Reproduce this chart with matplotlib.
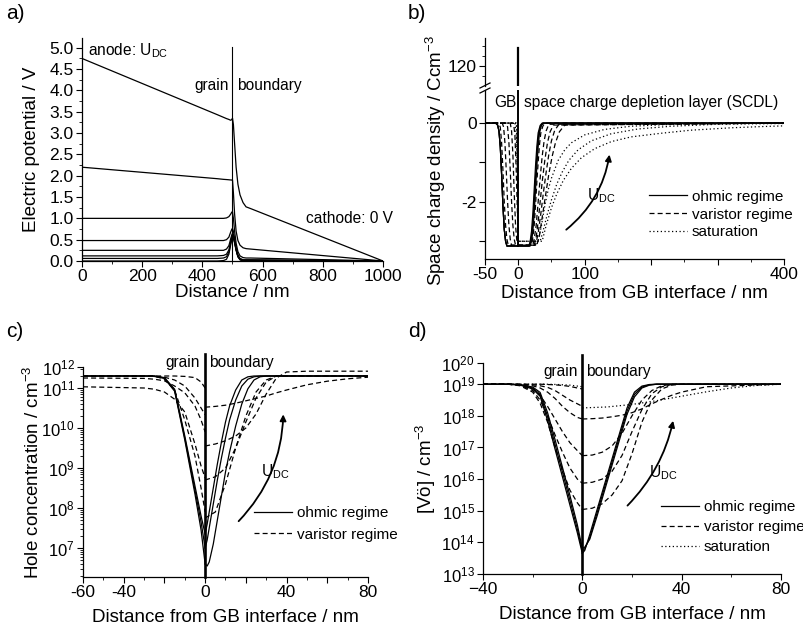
import numpy as np
import matplotlib
matplotlib.use("Agg")
import matplotlib.pyplot as plt
from matplotlib.patches import FancyArrowPatch
from matplotlib.lines import Line2D
from matplotlib.ticker import MultipleLocator, FixedLocator, FixedFormatter, LogLocator, NullFormatter, FormatStrFormatter

plt.rcParams['font.family'] = ['Liberation Sans', 'DejaVu Sans']
plt.rcParams['mathtext.fontset'] = 'custom'
plt.rcParams['mathtext.rm'] = 'Liberation Sans'
plt.rcParams['mathtext.it'] = 'Liberation Sans:italic'
plt.rcParams['mathtext.bf'] = 'Liberation Sans:bold'

# ---------------- a) electric potential ----------------
a_x = [0, 450, 470, 480, 488, 494, 498, 500, 503, 507, 512, 518, 525, 535, 545, 560, 1000]
a_u1 = [4.75, 3.43, 3.37, 3.34, 3.32, 3.30, 3.32, 3.35, 3.20, 2.75, 2.20, 1.80, 1.55, 1.37, 1.27, 1.23, 0.0]
a_u2 = [2.20, 1.93, 1.915, 1.91, 1.905, 1.90, 1.90, 1.90, 1.60, 1.10, 0.70, 0.48, 0.37, 0.31, 0.29, 0.28, 0.0]
a_u3 = [1.00, 1.00, 1.00, 1.01, 1.04, 1.10, 1.15, 1.15, 1.00, 0.70, 0.42, 0.22, 0.12, 0.08, 0.07, 0.07, 0.0]
a_u4 = [0.48, 0.48, 0.48, 0.50, 0.56, 0.68, 0.75, 0.76, 0.70, 0.52, 0.30, 0.14, 0.06, 0.03, 0.03, 0.03, 0.0]
a_u5 = [0.25, 0.25, 0.25, 0.28, 0.36, 0.52, 0.62, 0.65, 0.62, 0.48, 0.28, 0.12, 0.05, 0.02, 0.02, 0.02, 0.0]
a_u6 = [0.12, 0.12, 0.13, 0.16, 0.26, 0.45, 0.57, 0.60, 0.58, 0.45, 0.27, 0.11, 0.04, 0.01, 0.01, 0.01, 0.0]
a_u7 = [0.06, 0.06, 0.07, 0.10, 0.21, 0.42, 0.55, 0.58, 0.56, 0.44, 0.26, 0.10, 0.03, 0.01, 0.0, 0.0, 0.0]
a_u8 = [0.00, 0.00, 0.01, 0.04, 0.16, 0.38, 0.52, 0.55, 0.53, 0.42, 0.25, 0.10, 0.03, 0.0, 0.0, 0.0, 0.0]
a_gb = 500

# ---------------- b) space charge density ----------------
b_ohm_v = [0, 0, -0.05, -0.2, -0.6, -1.3, -2.1, -2.7, -3.0, -3.12, -3.12, -3.0, -2.75, -2.3, -1.7, -1.1, -0.6, -0.25, -0.06, 0, 0]
b_ohm_x1 = [-50, -34, -31, -29, -27, -25, -23, -21, -19, -17, 16, 18, 20, 22, 24, 26, 28, 30, 33, 36, 400]
b_ohm_x2 = [-50, -34, -31, -29, -27, -25, -23, -21, -19, -17, 17, 19, 21, 23, 25, 27, 29, 31, 34, 37, 400]
b_ohm_x3 = [-50, -34, -31, -29, -27, -25, -23, -21, -19, -17, 18, 20, 22, 24, 26, 28, 30, 32, 35, 38, 400]

b_var_x1 = [-50, -30, -27, -25, -23, -21, -19, -17, -15, 20, 22, 24, 26, 28, 30, 32, 34, 37, 40, 400]
b_var_v1 = [0, 0, -0.1, -0.5, -1.2, -2.0, -2.6, -2.95, -3.1, -3.1, -2.9, -2.6, -2.1, -1.5, -1.0, -0.55, -0.25, -0.08, 0, 0]
b_var_x2 = [-50, -24, -22, -20, -18, -16, -14, -12, -10, 22, 24, 27, 30, 33, 36, 39, 42, 46, 400]
b_var_v2 = [0, 0, -0.1, -0.5, -1.2, -2.0, -2.6, -2.95, -3.1, -3.1, -2.95, -2.6, -2.0, -1.4, -0.85, -0.45, -0.2, -0.03, 0]
b_var_x3 = [-50, -18, -16, -14, -12, -10, -8, -6, -4, 24, 27, 30, 33, 36, 40, 44, 48, 53, 400]
b_var_v3 = [0, 0, -0.1, -0.5, -1.2, -2.0, -2.6, -2.95, -3.1, -3.1, -2.9, -2.5, -2.0, -1.5, -0.95, -0.5, -0.22, -0.05, 0]
b_var_x4 = [-50, -12, -10, -8, -6, -4, -2, 0, 26, 30, 34, 38, 42, 46, 50, 55, 61, 400]
b_var_v4 = [0, 0, -0.2, -0.8, -1.8, -2.6, -3.0, -3.1, -3.1, -2.8, -2.3, -1.75, -1.25, -0.8, -0.45, -0.18, -0.04, 0]
b_var_x5 = [-50, -7, -5, -3, -1, 0, 28, 32, 36, 41, 46, 51, 56, 62, 70, 400]
b_var_v5 = [0, 0, -0.3, -1.2, -2.4, -3.1, -3.1, -2.85, -2.4, -1.85, -1.3, -0.85, -0.5, -0.22, -0.05, 0]

b_sat_x1 = [-50, -5, -3, -1, 0, 30, 35, 40, 45, 50, 60, 70, 80, 100, 130, 170, 220, 300, 400]
b_sat_v1 = [0, 0, -0.3, -1.5, -3.0, -3.0, -2.6, -2.1, -1.7, -1.4, -0.95, -0.68, -0.5, -0.3, -0.16, -0.08, -0.04, -0.01, 0]
b_sat_x2 = [-50, -3, -1, 0, 33, 38, 44, 50, 58, 66, 76, 90, 110, 140, 180, 230, 300, 400]
b_sat_v2 = [0, 0, -1.0, -3.0, -3.0, -2.7, -2.3, -1.95, -1.55, -1.25, -0.95, -0.68, -0.45, -0.27, -0.15, -0.08, -0.03, -0.01]
b_sat_x3 = [-50, -2, 0, 36, 42, 50, 58, 68, 80, 95, 115, 140, 170, 214, 260, 320, 364, 400]
b_sat_v3 = [0, 0, -3.0, -3.0, -2.6, -2.15, -1.8, -1.45, -1.15, -0.88, -0.65, -0.47, -0.35, -0.26, -0.18, -0.12, -0.09, -0.07]

b_gb_x = [0, 0]
b_gb_v = [-3.12, 129]

# ---------------- c) hole concentration (log10 cm^-3) ----------------
c_xl = [-60, -30, -25, -20, -15, -10, -5, -2, 0]
c_ohm_l1 = [11.3, 11.3, 11.3, 11.26, 10.97, 9.8, 8.55, 7.8, 7.35]
c_ohm_l2 = [11.3, 11.3, 11.3, 11.25, 10.95, 9.75, 8.45, 7.65, 7.0]
c_ohm_l3 = [11.3, 11.3, 11.29, 11.24, 10.92, 9.7, 8.35, 7.45, 6.6]
c_xr = [0, 1, 2, 4, 6, 8, 10, 12, 15, 18, 21, 24, 27, 30, 80]
c_ohm_r1 = [7.35, 7.6, 7.9, 8.5, 9.1, 9.65, 10.15, 10.55, 10.95, 11.2, 11.28, 11.3, 11.3, 11.3, 11.3]
c_ohm_r2 = [7.0, 7.2, 7.5, 8.1, 8.7, 9.25, 9.75, 10.2, 10.7, 11.05, 11.22, 11.28, 11.3, 11.3, 11.3]
c_ohm_r3 = [6.6, 6.55, 6.65, 7.1, 7.7, 8.3, 8.9, 9.4, 10.05, 10.6, 10.98, 11.2, 11.28, 11.3, 11.3]

c_var_l1 = [11.3, 11.3, 11.3, 11.3, 11.3, 11.29, 11.26, 11.15, 11.0]
c_var_l2 = [11.3, 11.3, 11.29, 11.27, 11.2, 11.05, 10.75, 10.5, 10.33]
c_var_l3 = [11.25, 11.24, 11.22, 11.18, 11.05, 10.88, 10.55, 10.2, 9.9]
c_var_l4 = [11.03, 11.0, 10.97, 10.9, 10.72, 10.4, 9.6, 9.05, 8.75]
c_var_l5 = [11.3, 11.3, 11.3, 11.22, 10.95, 10.2, 9.3, 8.5, 7.9]
c_xr2 = [0, 5, 10, 15, 20, 25, 30, 35, 40, 50, 60, 70, 80]
c_var_r1 = [7.75, 7.9, 8.6, 9.5, 10.3, 10.9, 11.2, 11.3, 11.3, 11.3, 11.3, 11.3, 11.3]
c_var_r2 = [8.7, 8.78, 9.0, 9.5, 10.15, 10.75, 11.15, 11.3, 11.3, 11.3, 11.3, 11.3, 11.3]
c_var_r3 = [9.55, 9.6, 9.68, 9.8, 10.0, 10.35, 10.85, 11.25, 11.4, 11.42, 11.42, 11.42, 11.42]
c_var_r4 = [10.52, 10.54, 10.57, 10.62, 10.68, 10.74, 10.8, 10.88, 10.95, 11.08, 11.17, 11.23, 11.27]

c_ticks_exp = [7, 8, 9, 10, 11, 12]

# ---------------- d) oxygen vacancy concentration (log10 cm^-3) ----------------
d_xl = [-40, -30, -25, -20, -17, -14, -11, -8, -5, -2, 0]
d_ohm_l1 = [19.0, 19.0, 18.97, 18.85, 18.62, 17.85, 16.95, 16.07, 15.18, 14.3, 13.65]
d_ohm_l2 = [19.0, 19.0, 18.98, 18.88, 18.68, 17.98, 17.1, 16.22, 15.33, 14.42, 13.72]
d_ohm_l3 = [19.0, 19.0, 18.99, 18.91, 18.74, 18.1, 17.25, 16.37, 15.48, 14.55, 13.8]
d_xr = [0, 1, 3, 6, 9, 12, 15, 18, 21, 24, 27, 30, 40, 80]
d_ohm_r1 = [13.65, 13.75, 14.25, 15.05, 15.85, 16.65, 17.45, 18.25, 18.75, 18.94, 18.99, 19.0, 19.0, 19.0]
d_ohm_r2 = [13.72, 13.8, 14.15, 14.95, 15.75, 16.55, 17.35, 18.15, 18.68, 18.91, 18.98, 19.0, 19.0, 19.0]
d_ohm_r3 = [13.8, 13.85, 14.1, 14.85, 15.65, 16.45, 17.25, 18.05, 18.6, 18.88, 18.97, 19.0, 19.0, 19.0]

d_var_l1 = [19, 19, 19, 19, 19, 18.99, 18.98, 18.96, 18.93, 18.88, 18.85]
d_var_l2 = [19, 19, 19, 18.98, 18.95, 18.9, 18.8, 18.65, 18.5, 18.38, 18.3]
d_var_l3 = [19, 19, 18.99, 18.95, 18.88, 18.75, 18.55, 18.3, 18.1, 17.95, 17.9]
d_var_l4 = [19, 19, 18.97, 18.85, 18.65, 18.3, 17.9, 17.5, 17.15, 16.9, 16.74]
d_var_l5 = [19, 19, 18.96, 18.8, 18.5, 18.0, 17.4, 16.85, 16.35, 16.0, 15.87]
d_var_l6 = [19, 19, 18.95, 18.75, 18.4, 17.8, 17.0, 16.3, 15.65, 15.25, 15.04]
d_xr2 = [0, 4, 8, 12, 16, 20, 24, 28, 32, 36, 40, 50, 80]
d_var_r1 = [15.04, 15.08, 15.22, 15.5, 15.95, 16.8, 17.8, 18.5, 18.85, 18.97, 19.0, 19.0, 19.0]
d_var_r2 = [15.87, 15.9, 16.0, 16.25, 16.75, 17.5, 18.2, 18.7, 18.92, 18.99, 19.0, 19.0, 19.0]
d_var_r3 = [16.74, 16.76, 16.85, 17.05, 17.45, 18.0, 18.5, 18.8, 18.95, 19.0, 19.0, 19.0, 19.0]
d_var_r4 = [17.9, 17.91, 17.93, 17.97, 18.02, 18.1, 18.22, 18.38, 18.52, 18.65, 18.75, 18.92, 19.0]
d_sat_xl = [-40, -15, -10, -5, -2, 0]
d_sat_l = [19.0, 19.0, 18.99, 18.97, 18.94, 18.92]
d_sat_xr = [0, 10, 20, 30, 40, 50, 60, 70, 80]
d_sat_r = [18.25, 18.28, 18.36, 18.48, 18.62, 18.76, 18.88, 18.96, 19.0]

d_ticks_exp = [13, 14, 15, 16, 17, 18, 19, 20]

# ---------------- figure ----------------
W, H = 804, 631
fig = plt.figure(figsize=(W / 100, H / 100), dpi=100)


def px_axes(l, t, r, b):
    return fig.add_axes([l / W, 1 - b / H, (r - l) / W, (b - t) / H])


def style(ax, tsize=12.5):
    ax.spines['top'].set_visible(False)
    ax.spines['right'].set_visible(False)
    for s in ['left', 'bottom']:
        ax.spines[s].set_linewidth(0.9)
    ax.tick_params(which='major', direction='out', length=4, width=0.8, labelsize=tsize, pad=2)
    ax.tick_params(which='minor', direction='out', length=2, width=0.6)


def lg(v):
    return 10 ** np.asarray(v)


solid = dict(color='k', lw=0.9, ls='-')
dash = dict(color='k', lw=0.9, ls=(0, (4, 2.5)))
dot = dict(color='k', lw=0.9, ls=(0, (1, 2)))
ann = 11.2
lab = 13.5
leg = dict(loc='upper left', frameon=False, fontsize=11, handlelength=2.5, handletextpad=0.3,
           borderpad=0, borderaxespad=0)


def udc(ax, p0, p1, rad, tx, ty):
    ax.add_patch(FancyArrowPatch(p0, p1, connectionstyle='arc3,rad=%g' % rad,
                                 arrowstyle='-|>', mutation_scale=9, lw=1.3, color='k'))
    ax.text(tx, ty, r'U$_{\rm DC}$', fontsize=ann, va='center', ha='left')


# ---- a ----
ax_a = px_axes(82, 38, 383, 261)
style(ax_a)
for u in [a_u1, a_u2, a_u3, a_u4, a_u5, a_u6, a_u7, a_u8]:
    ax_a.plot(a_x, u, **solid)
ax_a.axvline(a_gb, ymin=0, ymax=5.02 / 5.23, color='k', lw=0.8)
ax_a.set_xlim(0, 1000)
ax_a.set_ylim(0, 5.23)
ax_a.xaxis.set_major_locator(MultipleLocator(200))
ax_a.xaxis.set_minor_locator(MultipleLocator(100))
ax_a.yaxis.set_major_locator(FixedLocator(np.arange(0, 5.01, 0.5)))
ax_a.yaxis.set_minor_locator(MultipleLocator(0.25))
ax_a.yaxis.set_major_formatter(FormatStrFormatter('%.1f'))
ax_a.set_xlabel('Distance / nm', fontsize=lab)
ax_a.xaxis.set_label_coords(0.5, -0.104)
ax_a.set_ylabel('Electric potential / V', fontsize=lab)
ax_a.yaxis.set_label_coords(-0.14, 0.5)
ax_a.text(20, 4.93, r'anode: U$_{\rm DC}$', fontsize=ann, va='center')
ax_a.text(488, 4.12, 'grain', fontsize=ann, va='center', ha='right')
ax_a.text(515, 4.12, 'boundary', fontsize=ann, va='center', ha='left')
ax_a.text(745, 1.0, 'cathode: 0 V', fontsize=ann, va='center', ha='left', clip_on=False)

# ---- b ----
ax_b = px_axes(485, 90, 784, 259)
ax_bt = px_axes(485, 38, 784, 86)
style(ax_b)
for xx in [b_ohm_x1, b_ohm_x2, b_ohm_x3]:
    ax_b.plot(xx, b_ohm_v, **solid)
ax_b.lines[0].set_label('ohmic regime')
first = True
for xx, vv in [(b_var_x1, b_var_v1), (b_var_x2, b_var_v2), (b_var_x3, b_var_v3),
               (b_var_x4, b_var_v4), (b_var_x5, b_var_v5)]:
    ax_b.plot(xx, vv, label='varistor regime' if first else None, **dash)
    first = False
first = True
for xx, vv in [(b_sat_x1, b_sat_v1), (b_sat_x2, b_sat_v2), (b_sat_x3, b_sat_v3)]:
    ax_b.plot(xx, vv, label='saturation' if first else None, **dot)
    first = False
ax_b.plot(b_gb_x, b_gb_v, color='k', lw=1.4)
ax_bt.plot(b_gb_x, b_gb_v, color='k', lw=1.6)
ax_b.set_xlim(-50, 400)
ax_b.set_ylim(-3.45, 0.84)
ax_b.xaxis.set_major_locator(FixedLocator([-50, 0, 100, 200, 300, 400]))
ax_b.xaxis.set_major_formatter(FixedFormatter(['-50', '0', '100', '', '', '400']))
ax_b.xaxis.set_minor_locator(MultipleLocator(50))
ax_b.yaxis.set_major_locator(FixedLocator([-3, -2, -1, 0]))
ax_b.yaxis.set_major_formatter(FixedFormatter(['', '-2', '', '0']))
ax_b.set_xlabel('Distance from GB interface / nm', fontsize=lab)
ax_b.xaxis.set_label_coords(0.5, -0.154)
ax_b.text(-3, 0.52, 'GB', fontsize=ann, va='center', ha='right')
ax_b.text(9, 0.52, 'space charge depletion layer (SCDL)', fontsize=ann, va='center', ha='left',
          clip_on=False)
udc(ax_b, (69, -2.75), (138, -0.73), 0.2, 104, -1.85)
ax_b.legend(bbox_to_anchor=(0.548, 0.41), labelspacing=0.25, **leg)

for s in ['top', 'right', 'bottom']:
    ax_bt.spines[s].set_visible(False)
ax_bt.spines['left'].set_linewidth(0.9)
ax_bt.set_xlim(-50, 400)
ax_bt.set_ylim(110, 134)
ax_bt.set_xticks([])
ax_bt.yaxis.set_major_locator(FixedLocator([120]))
ax_bt.yaxis.set_minor_locator(FixedLocator([115, 125, 130]))
ax_bt.tick_params(which='major', direction='out', length=4, width=0.8, labelsize=12.5, pad=2)
ax_bt.tick_params(which='minor', direction='out', length=2, width=0.6)
for yb in (91, 86):
    fig.add_artist(Line2D([480 / W, 490 / W], [1 - (yb + 2) / H, 1 - (yb - 3) / H],
                          color='k', lw=0.9))
fig.text(436 / W, 1 - 160 / H, 'Space charge density / Ccm$^{-3}$', rotation=90,
         fontsize=lab, ha='center', va='center')

# ---- c ----
ax_c = px_axes(83, 367, 368, 577)
style(ax_c, 12)
ax_c.set_yscale('log')
for yl in [c_ohm_l1, c_ohm_l2, c_ohm_l3]:
    ax_c.plot(c_xl, lg(yl), **solid)
for yr in [c_ohm_r1, c_ohm_r2, c_ohm_r3]:
    ax_c.plot(c_xr, lg(yr), **solid)
ax_c.lines[0].set_label('ohmic regime')
for yl in [c_var_l1, c_var_l2, c_var_l3, c_var_l4, c_var_l5]:
    ax_c.plot(c_xl, lg(yl), **dash)
for yr in [c_var_r1, c_var_r2, c_var_r3, c_var_r4]:
    ax_c.plot(c_xr2, lg(yr), **dash)
ax_c.lines[6].set_label('varistor regime')
ax_c.axvline(0, ymin=0, ymax=1.06, color='k', lw=1.9, clip_on=False)
ax_c.set_xlim(-60, 80)
c_lo, c_hi = 10 ** 6.275, 10 ** 11.525
ax_c.set_ylim(c_lo, c_hi)
ax_c.yaxis.set_major_locator(FixedLocator([10.0 ** e for e in c_ticks_exp[:-1]] + [c_hi]))
ax_c.yaxis.set_major_formatter(FixedFormatter([r'$10^{%d}$' % e for e in c_ticks_exp]))
ax_c.yaxis.set_minor_locator(LogLocator(base=10, subs=np.arange(2, 10)))
ax_c.yaxis.set_minor_formatter(NullFormatter())
ax_c.xaxis.set_major_locator(FixedLocator([-60, -40, -20, 0, 20, 40, 60, 80]))
ax_c.xaxis.set_major_formatter(FixedFormatter(['-60', '-40', '', '0', '', '40', '', '80']))
ax_c.xaxis.set_minor_locator(MultipleLocator(10))
ax_c.tick_params(axis='x', labelsize=12.5)
ax_c.set_xlabel('Distance from GB interface / nm', fontsize=lab)
ax_c.xaxis.set_label_coords(0.5, -0.15)
ax_c.set_ylabel('Hole concentration / cm$^{-3}$', fontsize=lab)
ax_c.yaxis.set_label_coords(-0.14, 0.5)
ax_c.text(-2.5, 10 ** 11.65, 'grain', fontsize=ann, va='center', ha='right')
ax_c.text(2.0, 10 ** 11.65, 'boundary', fontsize=ann, va='center', ha='left')
udc(ax_c, (15.5, 10 ** 7.62), (38.4, 10 ** 10.41), 0.2, 27.5, 10 ** 8.9)
ax_c.legend(bbox_to_anchor=(0.6, 0.338), labelspacing=0.5, **leg)

# ---- d ----
ax_d = px_axes(483, 363, 781, 574)
style(ax_d, 12)
ax_d.set_yscale('log')
for yl in [d_ohm_l1, d_ohm_l2, d_ohm_l3]:
    ax_d.plot(d_xl, lg(yl), **solid)
for yr in [d_ohm_r1, d_ohm_r2, d_ohm_r3]:
    ax_d.plot(d_xr, lg(yr), **solid)
ax_d.lines[0].set_label('ohmic regime')
for yl in [d_var_l1, d_var_l2, d_var_l3, d_var_l4, d_var_l5, d_var_l6]:
    ax_d.plot(d_xl, lg(yl), **dash)
for yr in [d_var_r1, d_var_r2, d_var_r3, d_var_r4]:
    ax_d.plot(d_xr2, lg(yr), **dash)
ax_d.lines[6].set_label('varistor regime')
ax_d.plot(d_sat_xl, lg(d_sat_l), **dot)
ax_d.plot(d_sat_xr, lg(d_sat_r), label='saturation', **dot)
ax_d.axvline(0, ymin=0, ymax=1.04, color='k', lw=1.9, clip_on=False)
ax_d.set_xlim(-40, 80)
d_lo, d_hi = 1e13, 10 ** 19.67
ax_d.set_ylim(d_lo, d_hi)
ax_d.yaxis.set_major_locator(FixedLocator([10.0 ** e for e in d_ticks_exp[:-1]] + [d_hi]))
ax_d.yaxis.set_major_formatter(FixedFormatter([r'$10^{%d}$' % e for e in d_ticks_exp]))
ax_d.yaxis.set_minor_locator(LogLocator(base=10, subs=np.arange(2, 10)))
ax_d.yaxis.set_minor_formatter(NullFormatter())
ax_d.xaxis.set_major_locator(MultipleLocator(40))
ax_d.xaxis.set_minor_locator(MultipleLocator(20))
ax_d.tick_params(axis='x', labelsize=12.5)
ax_d.set_xlabel('Distance from GB interface / nm', fontsize=lab)
ax_d.xaxis.set_label_coords(0.5, -0.15)
ax_d.set_ylabel('[Vö] / cm$^{-3}$', fontsize=lab)
ax_d.yaxis.set_label_coords(-0.15, 0.5)
ax_d.text(-1.8, 10 ** 19.4, 'grain', fontsize=ann, va='center', ha='right')
ax_d.text(1.6, 10 ** 19.4, 'boundary', fontsize=ann, va='center', ha='left')
udc(ax_d, (17.4, 10 ** 15.1), (36.8, 10 ** 17.93), 0.15, 27, 10 ** 16.2)
ax_d.legend(bbox_to_anchor=(0.597, 0.35), labelspacing=0.4, **leg)

# panel letters
for t, x, y in [('a)', 6, 4), ('b)', 408, 4), ('c)', 6, 322), ('d)', 408, 322)]:
    fig.text(x / W, 1 - y / H, t, fontsize=15, ha='left', va='top')

fig.savefig('out.png', dpi=100)
